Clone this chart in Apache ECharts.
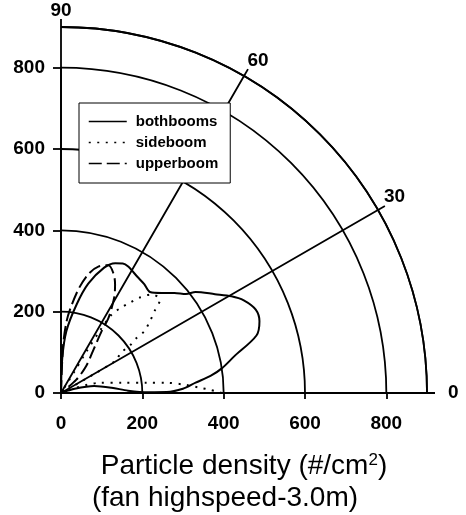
<!DOCTYPE html>
<html>
<head>
<meta charset="utf-8">
<script src="https://cdn.jsdelivr.net/npm/echarts@6/dist/echarts.min.js"></script>
<style>
  html, body { margin: 0; padding: 0; background: #fff; }
  #chart { width: 466px; height: 515px; }
</style>
</head>
<body>
<div id="chart"></div>
<script>
// Polar traces as [radius, angle in degrees], following each lobe from the origin and back
const bothbooms = [
  [0, 0], [35, 17], [83, 12], [125, 6], [165, 2], [215, 0.5], [260, 0.5], [300, 2],
  [332, 4.4], [370, 6.5], [400, 8.7], [436, 12], [501, 16.4], [519, 19.9], [521, 23.2],
  [504, 26.9], [482, 29.6], [450, 32.7], [414, 36.9], [392, 38.4], [372, 41.4],
  [349, 44.8], [331, 48.6], [337, 52.6], [342, 56.7], [352, 62], [353, 64.5],
  [346, 67.3], [326, 71], [277, 76], [221, 80], [153, 85], [84, 88], [0, 90]
];
const sideboomLow = [
  [0, 0], [96, 15], [154, 9.4], [213, 6.8], [261, 5.5], [308, 3.7], [343, 2.1],
  [367, 1.2], [395, 0]
];
const sideboomMid = [
  [0, 0], [154, 30.5], [179, 34], [205, 34.5], [227, 36], [255, 36.6], [282, 39],
  [307, 41.3], [333, 43.2], [336, 44.4], [330, 47.3], [306, 50.3], [281, 52.5],
  [257, 54.8], [229, 57.2], [180, 58], [120, 58.5], [60, 58], [0, 0]
];
const upperboom = [
  [0, 0], [116, 87.5], [178, 85.5], [219, 83], [265, 80], [302, 76.8], [325, 73.4],
  [335, 69.6], [321, 66.3], [299, 63.6], [269, 60.9], [219, 57.7], [182, 56.7],
  [136, 53.4], [90, 46.8], [50, 41], [0, 0]
];
const radiusTicks = [0, 200, 400, 600, 800];
const angleTicks = [0, 30, 60, 90];
const seriesNames = ['bothbooms', 'sideboom', 'upperboom'];

const cx = 61, cy = 393, R = 366;
const radiusMax = 900;
const side = R * radiusTicks[radiusTicks.length - 1] / radiusMax;

const ink = '#000';
const tickFont = { color: ink, fontFamily: 'Liberation Sans', fontWeight: 'bold', fontSize: 19 };
const gridLine = { color: ink, width: 1.8 };

function curve(name, data, type) {
  return {
    name: name,
    type: 'line',
    coordinateSystem: 'polar',
    data: data,
    smooth: 0.3,
    symbol: 'none',
    showSymbol: false,
    lineStyle: { color: ink, width: 2, type: type },
    itemStyle: { color: ink },
    z: 3
  };
}

const chart = echarts.init(document.getElementById('chart'), null, { renderer: 'canvas' });
chart.setOption({
  animation: false,
  backgroundColor: '#fff',
  polar: { center: [cx, cy], radius: R },
  angleAxis: {
    type: 'value',
    min: 0,
    max: 90,
    interval: 30,
    startAngle: 0,
    endAngle: 90,
    clockwise: false,
    axisLine: { show: true, lineStyle: gridLine },
    axisTick: { show: true, length: 8, lineStyle: gridLine },
    axisLabel: Object.assign({
      margin: 7,
      formatter: v => angleTicks.includes(v) ? (v === 0 ? '{east|0}' : String(v)) : '',
      rich: { east: Object.assign({ padding: [0, 0, 0, 14] }, tickFont) }
    }, tickFont),
    splitLine: { show: true, lineStyle: gridLine }
  },
  radiusAxis: {
    type: 'value',
    min: 0,
    max: radiusMax,
    interval: 200,
    axisLine: { show: false },
    axisTick: { show: false },
    axisLabel: { show: false },
    splitLine: { show: true, lineStyle: gridLine }
  },
  grid: { left: cx, top: cy - side, width: side, height: side, containLabel: false },
  xAxis: {
    type: 'value',
    min: radiusTicks[0],
    max: radiusTicks[radiusTicks.length - 1],
    interval: 200,
    axisLine: { show: true, lineStyle: gridLine },
    axisTick: { show: true, length: 6, inside: false, lineStyle: gridLine },
    axisLabel: Object.assign({ margin: 21 }, tickFont),
    splitLine: { show: false }
  },
  yAxis: {
    type: 'value',
    min: radiusTicks[0],
    max: radiusTicks[radiusTicks.length - 1],
    interval: 200,
    axisLine: { show: true, lineStyle: gridLine },
    axisTick: { show: true, length: 8, inside: false, lineStyle: gridLine },
    axisLabel: Object.assign({ margin: 16 }, tickFont),
    splitLine: { show: false }
  },
  legend: {
    data: seriesNames,
    orient: 'vertical',
    left: 79,
    top: 103,
    itemWidth: 38,
    itemHeight: 14,
    itemGap: 6,
    padding: [11, 12, 12, 9],
    backgroundColor: '#fff',
    borderColor: ink,
    borderWidth: 1,
    borderRadius: 0,
    selectedMode: false,
    z: 10,
    itemStyle: { opacity: 0, borderWidth: 0 },
    lineStyle: { width: 1.5 },
    textStyle: { color: ink, fontFamily: 'Liberation Sans', fontWeight: 'bold', fontSize: 15, padding: [0, 0, 0, 4] }
  },
  graphic: [
    {
      type: 'text',
      x: 244,
      y: 466,
      style: {
        text: 'Particle density (#/cm{sup|2})',
        align: 'center',
        verticalAlign: 'middle',
        fontFamily: 'Liberation Sans',
        fontSize: 28,
        fill: ink,
        rich: { sup: { fontSize: 17, verticalAlign: 'top', fontFamily: 'Liberation Sans', fill: ink } }
      }
    },
    {
      type: 'text',
      x: 225,
      y: 498,
      style: {
        text: '(fan highspeed-3.0m)',
        align: 'center',
        verticalAlign: 'middle',
        fontFamily: 'Liberation Sans',
        fontSize: 28,
        fill: ink
      }
    }
  ],
  series: [
    curve('bothbooms', bothbooms, 'solid'),
    curve('sideboom', sideboomLow, [2, 6.5]),
    curve('sideboom', sideboomMid, [2, 6.5]),
    curve('upperboom', upperboom, [13, 5])
  ]
});
</script>
</body>
</html>
